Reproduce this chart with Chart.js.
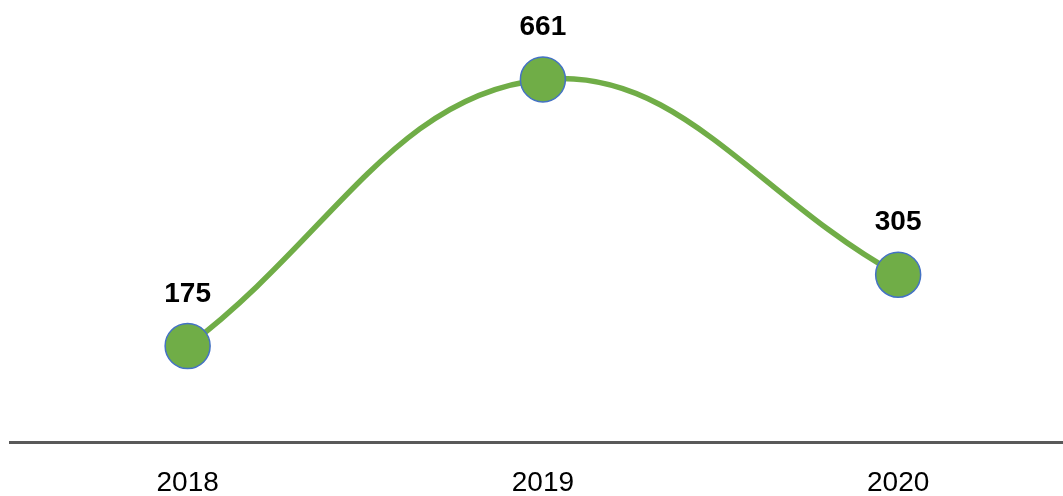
<!DOCTYPE html>
<html>
<head>
<meta charset="utf-8">
<script src="https://cdn.jsdelivr.net/npm/chart.js@4"></script>
<style>
  html, body { margin: 0; padding: 0; background: #ffffff; overflow: hidden; }
  #wrap { width: 1063px; height: 496px; position: relative; }
</style>
</head>
<body>
<div id="wrap"><canvas id="c" width="1063" height="496"></canvas></div>
<script>
const categories = ["2018", "2019", "2020"];
const values = [175, 661, 305];
const yMin = 0;
const yMax = 700;

const labelPlugin = {
  id: 'valueLabels',
  afterDatasetsDraw(chart) {
    const ctx = chart.ctx;
    const meta = chart.getDatasetMeta(0);
    ctx.save();
    ctx.font = 'bold 28px "Liberation Sans", Arial, sans-serif';
    ctx.fillStyle = '#000000';
    ctx.textAlign = 'center';
    ctx.textBaseline = 'middle';
    meta.data.forEach((pt, i) => {
      ctx.fillText(String(values[i]), pt.x, pt.y - 52);
    });
    ctx.restore();
  }
};

new Chart(document.getElementById('c'), {
  type: 'line',
  data: {
    datasets: [{
      data: categories.map((c, i) => ({ x: i, y: values[i] })),
      borderColor: '#70AD47',
      borderWidth: 5.5,
      tension: 0.4,
      fill: false,
      clip: false,
      pointRadius: 22.5,
      pointHoverRadius: 22.5,
      pointBackgroundColor: '#70AD47',
      pointBorderColor: '#4472C4',
      pointBorderWidth: 1.5
    }]
  },
  options: {
    responsive: false,
    animation: false,
    events: [],
    layout: { autoPadding: false, padding: { left: 10, right: 0, top: 58, bottom: -28 } },
    plugins: { legend: { display: false }, tooltip: { enabled: false } },
    scales: {
      x: {
        type: 'linear',
        min: -0.5,
        max: 2.464,
        afterBuildTicks(scale) {
          scale.ticks = categories.map((c, i) => ({ value: i }));
        },
        grid: { display: false, drawTicks: false },
        border: { display: true, color: '#595959', width: 3 },
        ticks: {
          padding: 27,
          color: '#000000',
          font: { family: '"Liberation Sans", Arial, sans-serif', size: 28, lineHeight: 1.0 },
          callback: (v) => categories[v],
          maxRotation: 0,
          autoSkip: false
        }
      },
      y: {
        display: false,
        min: yMin,
        max: yMax
      }
    }
  },
  plugins: [labelPlugin]
});
</script>
</body>
</html>
